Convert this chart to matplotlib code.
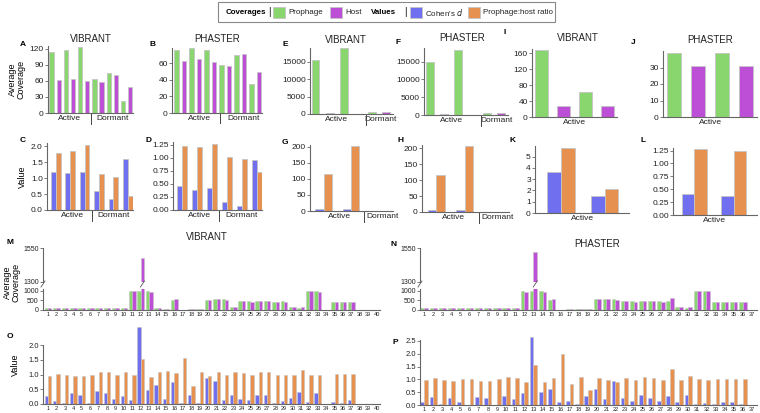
import numpy as np
import matplotlib
matplotlib.use('Agg')
import matplotlib.pyplot as plt
from matplotlib.patches import Rectangle

plt.rcParams['font.family'] = ['Liberation Sans', 'DejaVu Sans']

# colours
GREEN = '#8ad66e'
MAGENTA = '#bd4fd6'
BLUE = '#6f6ff0'
ORANGE = '#e6914f'
EDGE = '#c4c4c4'
AXC = '#666666'

# ---- data: panels A-L (group summaries) ----
A_prophage = [113, 118, 123, 64, 75, 23]
A_host = [62, 64, 60, 57, 71, 49]
B_prophage = [76, 78, 76, 58, 70, 35]
B_host = [63, 65, 61, 56, 71, 49]
C_d = [1.2, 1.15, 1.2, 0.6, 0.33, 1.6]
C_ratio = [1.8, 1.85, 2.05, 1.12, 1.05, 0.45]
D_d = [0.45, 0.38, 0.42, 0.15, 0.07, 0.95]
D_ratio = [1.22, 1.2, 1.26, 1.02, 0.98, 0.72]
E_prophage = [15500, 19000, 500]
E_host = [150, 60, 450]
F_prophage = [15000, 18300, 550]
F_host = [200, 120, 500]
G_d = [5, 5, 0.5]
G_ratio = [115, 203, 1]
H_d = [5, 5, 0.5]
H_ratio = [115, 208, 1]
I_prophage = [168, 62]
I_host = [28, 28]
J_prophage = [39, 38.5]
J_host = [31, 31]
K_d = [3.6, 1.5]
K_ratio = [5.8, 2.1]
L_d = [0.4, 0.37]
L_ratio = [1.28, 1.25]

# ---- data: panels M-P (per sample) ----
M_prophage = [100, 100, 100, 100, 100, 100, 100, 100, 100, 100, 1000, 1000, 1000, 110, 50,
              550, 0, 40, 40, 550, 560, 560, 170, 450, 450, 450, 460, 440, 450, 170,
              120, 1000, 1000, 0, 400, 400, 400, 0, 0, 0]
M_host = [100, 100, 100, 100, 100, 100, 100, 100, 100, 100, 970, 1480, 920, 110, 50,
          600, 0, 30, 50, 520, 600, 550, 170, 460, 430, 470, 470, 440, 430, 170,
          140, 990, 960, 0, 400, 400, 400, 0, 0, 0]
N_prophage = [100, 100, 100, 100, 100, 100, 100, 100, 100, 100, 100, 1000, 1000, 1000, 550,
              0, 40, 40, 40, 570, 560, 560, 460, 460, 450, 470, 460, 450, 150, 100,
              1000, 1000, 400, 400, 400, 400, 0]
N_host = [100, 100, 100, 100, 100, 100, 100, 100, 100, 100, 100, 920, 1520, 920, 600,
          0, 40, 40, 30, 600, 560, 520, 460, 400, 470, 470, 420, 620, 150, 140,
          1000, 990, 400, 400, 400, 400, 0]
O_d = [0.28, 0.1, 0.02, 0.36, 0.29, 0.02, 0.43, 0.37, 0.16, 0.28, 0.15, 2.6, 0.47, 0.63, 0.16,
       0.73, 0.05, 0.32, 0.05, 0.87, 0.78, 0.15, 0.3, 0.18, 0.13, 0.32, 0.3, 0.02, 0.1, 0.2,
       0.4, 0.08, 0.39, 0, 0.06, 0.05, 0.12, 0, 0, 0]
O_ratio = [0.95, 1.03, 1.0, 0.94, 0.95, 1.0, 1.1, 1.09, 0.97, 1.07, 0.97, 1.53, 0.92, 1.1, 1.11,
           1.06, 1.56, 0.6, 1.07, 0.94, 1.09, 1.0, 1.09, 1.05, 0.97, 1.1, 1.1, 1.0, 0.97, 0.97,
           1.14, 1.0, 0.97, 0, 1.01, 1.01, 1.02, 0, 0, 0]
P_d = [0.12, 0.3, 0.04, 0.29, 0.11, 0.01, 0.32, 0.29, 0.0, 0.35, 0.24, 0.47, 2.65, 0.52, 0.62,
       0.12, 0.15, 0.05, 0.35, 0.62, 0.22, 0.93, 0.27, 0.17, 0.38, 0.28, 0.14, 0.36, 0.1, 0.4,
       0.04, 0.08, 0.04, 0.1, 0.13, 0.03, 0]
P_ratio = [0.98, 1.05, 0.99, 0.94, 1.01, 1.0, 0.94, 0.94, 1.0, 1.08, 1.05, 0.89, 1.55, 0.9, 1.05,
           1.97, 0.8, 1.08, 0.58, 1.06, 0.97, 0.9, 1.05, 0.96, 1.09, 1.07, 0.96, 1.4, 0.97, 1.13,
           1.0, 0.99, 1.0, 1.01, 1.01, 1.0, 0]

W, H = 760, 413
fig = plt.figure(figsize=(W / 100, H / 100), dpi=100)


def px_axes(x0, y0, x1, y1):
    return fig.add_axes([x0 / W, 1 - y1 / H, (x1 - x0) / W, (y1 - y0) / H])


def style(ax, fs=6):
    for s in ['top', 'right']:
        ax.spines[s].set_visible(False)
    for s in ['left', 'bottom']:
        ax.spines[s].set_color(AXC)
        ax.spines[s].set_linewidth(0.8)
    ax.tick_params(axis='y', length=2, width=0.6, color=AXC, labelsize=fs, pad=1, labelcolor='#222')
    ax.tick_params(axis='x', length=0, labelsize=fs, pad=1.5, labelcolor='#222')


def group_axis(ax, centers, labels, seps, sep_len=0.16):
    ax.set_xticks(centers)
    ax.set_xticklabels(labels)
    for s in seps:
        ax.plot([s, s], [0, -sep_len], transform=ax.get_xaxis_transform(),
                color='#444', lw=0.7, clip_on=False)


def alt_bars(ax, prophage, host, width=0.62):
    n = len(prophage)
    xg = np.arange(n) * 2
    ax.bar(xg, prophage, width, color=GREEN, edgecolor=EDGE, lw=0.6)
    ax.bar(xg + 1, host, width, color=MAGENTA, edgecolor=EDGE, lw=0.6)


def pair_bars(ax, d, ratio, width=0.34):
    x = np.arange(len(d))
    ax.bar(x - width / 2, d, width, color=BLUE, edgecolor=EDGE, lw=0.6)
    ax.bar(x + width / 2, ratio, width, color=ORANGE, edgecolor=EDGE, lw=0.6)


# ---- row 1: coverages ----
ax = px_axes(48, 46, 133, 113)
alt_bars(ax, A_prophage, A_host)
ax.set_ylim(0, 125); ax.set_yticks([0, 30, 60, 90, 120]); ax.set_xlim(-0.5, 11.4)
style(ax); group_axis(ax, [2.5, 8.5], ['Active', 'Dormant'], [5.5])
ax.set_ylabel('Average\nCoverage', fontsize=6.5, labelpad=3, linespacing=0.95)

ax = px_axes(172, 48, 262, 113)
alt_bars(ax, B_prophage, B_host)
ax.set_ylim(0, 78); ax.set_yticks([0, 20, 40, 60]); ax.set_xlim(-0.6, 11.4)
style(ax); group_axis(ax, [3, 9], ['Active', 'Dormant'], [5.8])

ax = px_axes(310, 48, 393, 114)
alt_bars(ax, E_prophage, E_host, width=0.55)
ax.set_ylim(0, 19000); ax.set_yticks([0, 5000, 10000, 15000]); ax.set_xlim(-0.4, 5.5)
style(ax); group_axis(ax, [1.5, 4.6], ['Active', 'Dormant'], [3.55])

ax = px_axes(424, 48, 508, 115)
alt_bars(ax, F_prophage, F_host, width=0.55)
ax.set_ylim(0, 18800); ax.set_yticks([0, 5000, 10000, 15000]); ax.set_xlim(-0.4, 5.5)
style(ax); group_axis(ax, [1.5, 4.7], ['Active', 'Dormant'], [3.6])

ax = px_axes(532, 49, 617, 117)
alt_bars(ax, I_prophage, I_host, width=0.6)
ax.set_ylim(0, 170); ax.set_yticks([0, 40, 80, 120, 160]); ax.set_xlim(-0.45, 3.45)
style(ax); group_axis(ax, [1.5], ['Active'], [])

ax = px_axes(663, 51, 757, 117)
alt_bars(ax, J_prophage, J_host, width=0.6)
ax.set_ylim(0, 40); ax.set_yticks([0, 10, 20, 30]); ax.set_xlim(-0.45, 3.45)
style(ax); group_axis(ax, [1.5], ['Active'], [])

# ---- row 2: values ----
ax = px_axes(47, 143, 133, 210)
pair_bars(ax, C_d, C_ratio)
ax.set_ylim(0, 2.1); ax.set_yticks([0, 0.5, 1.0, 1.5, 2.0]); ax.set_xlim(-0.6, 5.35)
ax.yaxis.set_major_formatter(matplotlib.ticker.FormatStrFormatter('%.1f'))
style(ax); group_axis(ax, [1.15, 4.0], ['Active', 'Dormant'], [2.5])
ax.set_ylabel('Value', fontsize=6.5, labelpad=3)

ax = px_axes(173, 142, 262, 210)
pair_bars(ax, D_d, D_ratio)
ax.set_ylim(0, 1.3); ax.set_yticks([0, 0.25, 0.5, 0.75, 1.0, 1.25]); ax.set_xlim(-0.6, 5.35)
ax.yaxis.set_major_formatter(matplotlib.ticker.FormatStrFormatter('%.2f'))
style(ax); group_axis(ax, [1.15, 4.0], ['Active', 'Dormant'], [2.5])

ax = px_axes(310, 145, 393, 211)
pair_bars(ax, G_d, G_ratio, width=0.3)
ax.set_ylim(0, 205); ax.set_yticks([0, 50, 100, 150, 200]); ax.set_xlim(-0.5, 2.55)
style(ax); group_axis(ax, [0.6, 2.15], ['Active', 'Dormant'], [1.5])

ax = px_axes(422, 145, 509, 212)
pair_bars(ax, H_d, H_ratio, width=0.3)
ax.set_ylim(0, 210); ax.set_yticks([0, 50, 100, 150, 200]); ax.set_xlim(-0.5, 2.55)
style(ax); group_axis(ax, [0.6, 2.15], ['Active', 'Dormant'], [1.5])

ax = px_axes(535, 146, 629, 213)
pair_bars(ax, K_d, K_ratio, width=0.31)
ax.set_ylim(0, 5.95); ax.set_yticks([0, 1, 2, 3, 4, 5]); ax.set_xlim(-0.59, 1.55)
style(ax); group_axis(ax, [0.5], ['Active'], [])

ax = px_axes(673, 148, 757, 215)
pair_bars(ax, L_d, L_ratio, width=0.32)
ax.set_ylim(0, 1.3); ax.set_yticks([0, 0.25, 0.5, 0.75, 1.0, 1.25]); ax.set_xlim(-0.55, 1.6)
ax.yaxis.set_major_formatter(matplotlib.ticker.FormatStrFormatter('%.2f'))
style(ax); group_axis(ax, [0.5], ['Active'], [])


# ---- rows 3/4: per sample ----
def sample_bars(ax, a, b, ca, cb, width=0.4):
    x = np.arange(1, len(a) + 1)
    ax.bar(x - width / 2, a, width, color=ca, edgecolor=EDGE, lw=0.4)
    ax.bar(x + width / 2, b, width, color=cb, edgecolor=EDGE, lw=0.4)
    return x


def broken_cov(x0, x1, prophage, host, xl):
    up = px_axes(x0, 248, x1, 282)
    lo = px_axes(x0, 289, x1, 310)
    for a in (up, lo):
        x = sample_bars(a, prophage, host, GREEN, MAGENTA)
        a.set_xlim(*xl)
        style(a, fs=5)
    up.set_ylim(1300, 1550); up.set_yticks([1300, 1550])
    up.spines['bottom'].set_visible(False); up.set_xticks([])
    lo.set_ylim(0, 1100); lo.set_yticks([0, 500, 1000])
    lo.set_xticks(x); lo.set_xticklabels([str(i) for i in x], fontsize=4)
    # break marks on the axis and on the tall bar
    ib = int(np.argmax(host))
    for xx in (xl[0], x[ib] + 0.2):
        fx = up.transData.transform((xx, 0))[0] / fig.dpi / fig.get_figwidth()
        fig.lines.append(plt.Line2D([fx - 2 / W, fx + 2 / W], [1 - 287 / H, 1 - 281 / H],
                                    transform=fig.transFigure, color='#555', lw=0.6))
    return up, lo


up, lo = broken_cov(43, 380, M_prophage, M_host, (0.4, 40.4))
lo.set_ylabel('Average\nCoverage', fontsize=6.5, labelpad=2, linespacing=0.95, y=1.3)
broken_cov(420, 757, N_prophage, N_host, (0.55, 37.55))

ax = px_axes(43, 325, 380, 404)
x = sample_bars(ax, O_d, O_ratio, BLUE, ORANGE)
ax.set_xlim(0.4, 40.4); ax.set_ylim(0, 2.68); ax.set_yticks([0, 0.5, 1.0, 1.5, 2.0])
ax.yaxis.set_major_formatter(matplotlib.ticker.FormatStrFormatter('%.1f'))
style(ax, fs=5.5); ax.spines['left'].set_bounds(0, 2.0)
ax.set_xticks(x); ax.set_xticklabels([str(i) for i in x], fontsize=4)
ax.set_ylabel('Value', fontsize=6.5, labelpad=6)

ax = px_axes(420, 335, 757, 405)
x = sample_bars(ax, P_d, P_ratio, BLUE, ORANGE)
ax.set_xlim(0.55, 37.55); ax.set_ylim(0, 2.73); ax.set_yticks([0, 0.5, 1.0, 1.5, 2.0, 2.5])
ax.yaxis.set_major_formatter(matplotlib.ticker.FormatStrFormatter('%.1f'))
style(ax, fs=5.5); ax.spines['left'].set_bounds(0, 2.55)
ax.set_xticks(x); ax.set_xticklabels([str(i) for i in x], fontsize=4)

# ---- titles and panel letters ----
titles = [('VIBRANT', 91, 39), ('PHASTER', 217, 39), ('VIBRANT', 346, 40), ('PHASTER', 462, 38),
          ('VIBRANT', 578, 38), ('PHASTER', 710, 40), ('VIBRANT', 207, 237), ('PHASTER', 597, 244)]
for t, xx, yy in titles:
    fig.text(xx / W, 1 - yy / H, t, fontsize=7, ha='center', va='center', color='#222')

letters = [('A', 23, 45), ('B', 153, 45), ('E', 285, 45), ('F', 398, 43), ('I', 505, 33),
           ('J', 633, 43), ('C', 23, 141), ('D', 148, 141), ('G', 285, 143), ('H', 401, 141),
           ('K', 512, 141), ('L', 643, 141), ('M', 10, 243), ('N', 394, 245), ('O', 10, 337),
           ('P', 395, 342)]
for t, xx, yy in letters:
    fig.text(xx / W, 1 - yy / H, t, fontsize=6, fontweight='bold', ha='center', va='center')

# ---- legend box ----
fig.patches.append(Rectangle((218 / W, 1 - 22 / H), 337 / W, 20 / H, transform=fig.transFigure,
                             facecolor='white', edgecolor='#888', lw=0.8))
ty = 1 - 12 / H
fig.text(226 / W, ty, 'Coverages', fontsize=5.7, fontweight='bold', va='center')
fig.text(268.5 / W, ty, '|', fontsize=7, va='center')
fig.text(371 / W, ty, 'Values', fontsize=5.7, fontweight='bold', va='center')
fig.text(404.5 / W, ty, '|', fontsize=7, va='center')
items = [(273, GREEN, 'Prophage'), (330, MAGENTA, 'Host'), (410, BLUE, "Cohen's $d$"),
         (468, ORANGE, 'Prophage:host ratio')]
for xx, c, t in items:
    fig.patches.append(Rectangle((xx / W, 1 - 18 / H), 12 / W, 11 / H, transform=fig.transFigure,
                                 facecolor=c, edgecolor=EDGE, lw=0.6))
    fig.text((xx + 15) / W, ty, t, fontsize=5.8, va='center', color='#222')

fig.savefig('out.png', dpi=100)
